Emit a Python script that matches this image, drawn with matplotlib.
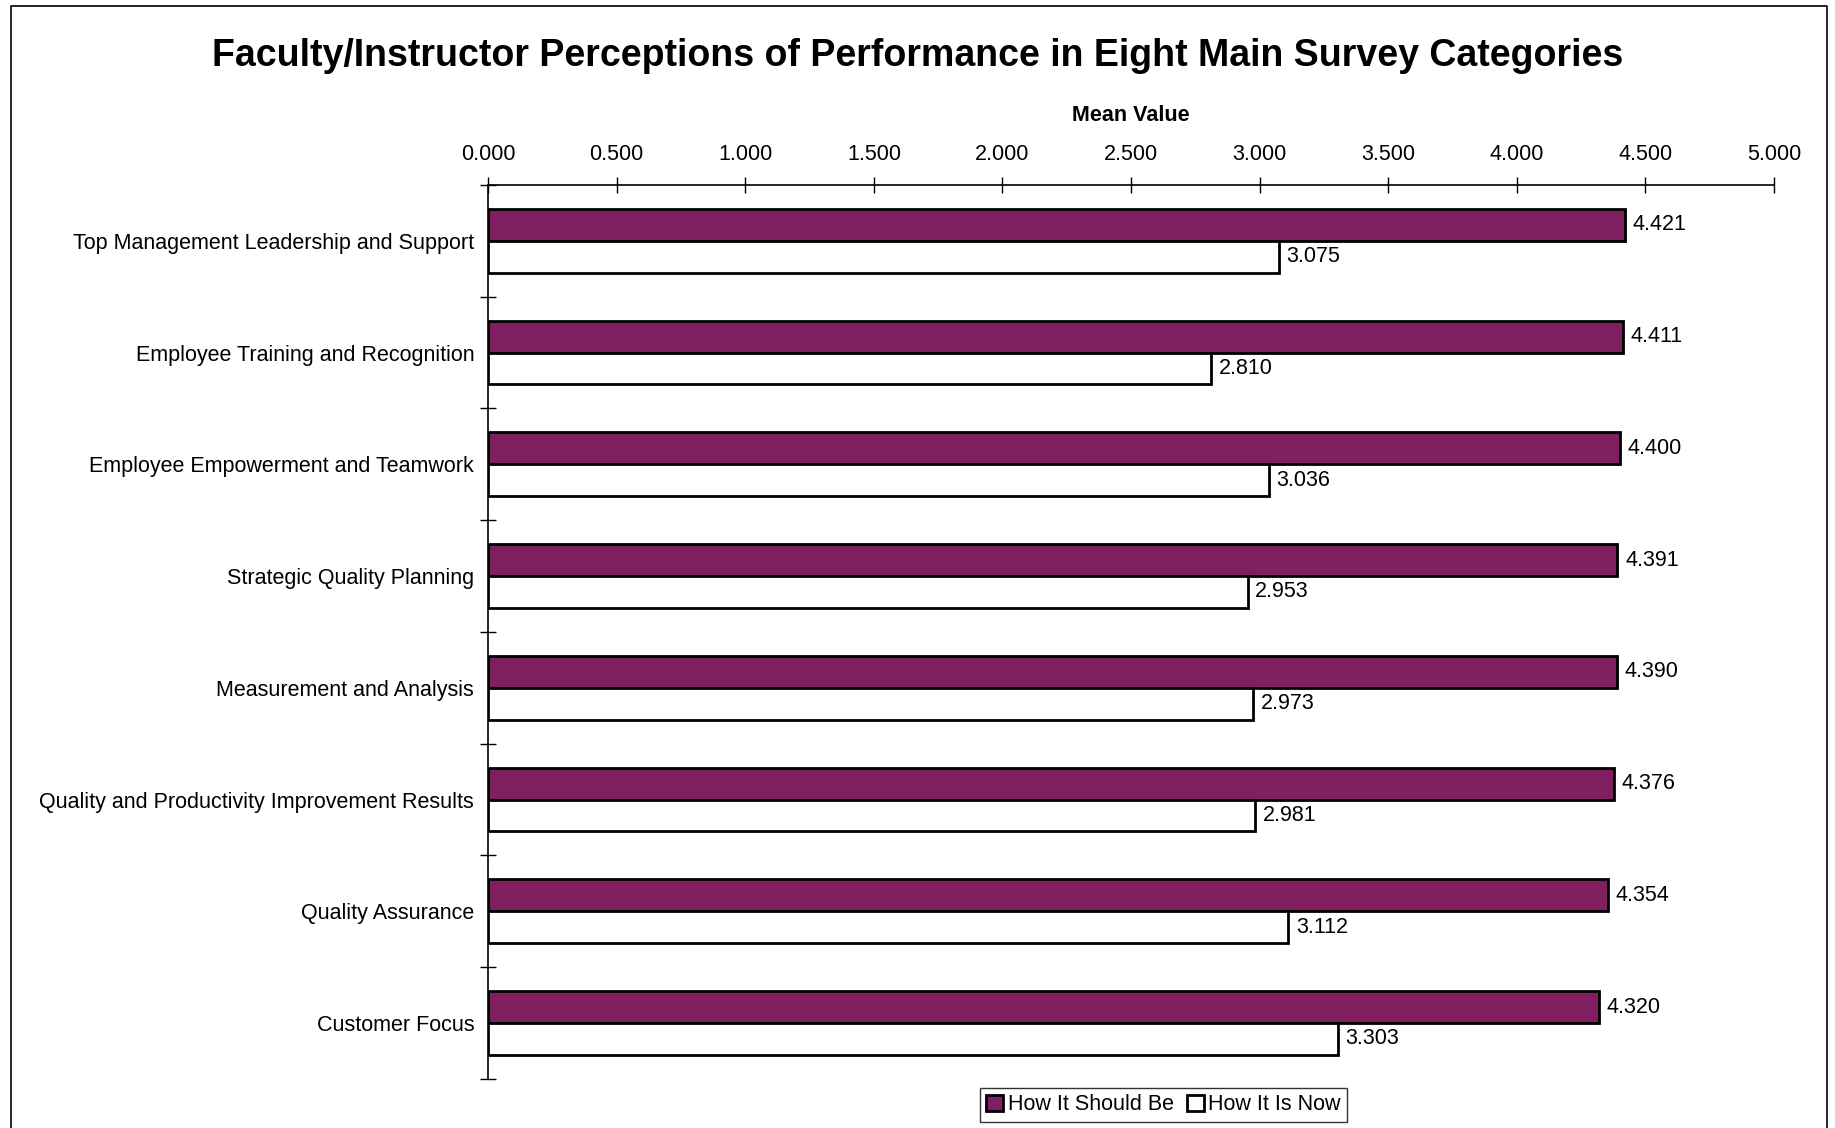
import matplotlib.pyplot as plt
import matplotlib.ticker as mticker
from matplotlib.lines import Line2D
import numpy as np

plt.rcParams['font.family'] = ['Liberation Sans', 'DejaVu Sans']

# 数据
categories = ['Top Management Leadership and Support',
              'Employee Training and Recognition',
              'Employee Empowerment and Teamwork',
              'Strategic Quality Planning',
              'Measurement and Analysis',
              'Quality and Productivity Improvement Results',
              'Quality Assurance',
              'Customer Focus']
should_be = [4.421, 4.411, 4.400, 4.391, 4.390, 4.376, 4.354, 4.320]
is_now = [3.075, 2.810, 3.036, 2.953, 2.973, 2.981, 3.112, 3.303]
series_names = ['How It Should Be', 'How It Is Now']
colors = ['#7f1f5f', '#ffffff']

fig = plt.figure(figsize=(18.35, 11.28), dpi=100)
ax = fig.add_axes([0.266, 0.0435, 0.7008, 0.7926])

y = np.arange(len(categories))
h = 0.285
b1 = ax.barh(y - h / 2, should_be, height=h, color=colors[0], edgecolor='black',
             linewidth=2.0, label=series_names[0])
b2 = ax.barh(y + h / 2, is_now, height=h, color=colors[1], edgecolor='black',
             linewidth=2.0, label=series_names[1])

# 数值标签
for bars, vals in [(b1, should_be), (b2, is_now)]:
    for bar, v in zip(bars, vals):
        ax.text(v + 0.03, bar.get_y() + bar.get_height() / 2, f'{v:.3f}',
                va='center', ha='left', fontsize=15.5)

ax.set_xlim(0, 5)
ax.set_ylim(len(categories) - 0.5, -0.5)

# 坐标轴：刻度在上方
ax.xaxis.tick_top()
ax.xaxis.set_label_position('top')
ax.set_xticks(np.arange(0, 5.01, 0.5))
ax.xaxis.set_major_formatter(mticker.FormatStrFormatter('%.3f'))
ax.set_xlabel('Mean Value', fontsize=15.5, fontweight='bold', labelpad=17)

ax.set_yticks(y)
ax.set_yticklabels(categories, fontsize=15.5)
ax.set_yticks(np.arange(-0.5, len(categories)), minor=True)
ax.tick_params(axis='y', which='major', length=0, pad=10)
ax.tick_params(axis='y', which='minor', direction='inout', length=12, width=1)
ax.tick_params(axis='x', direction='inout', length=12, width=1, labelsize=15.5, pad=8)

for s in ['right', 'bottom']:
    ax.spines[s].set_visible(False)
for s in ['top', 'left']:
    ax.spines[s].set_linewidth(1.2)

fig.suptitle('Faculty/Instructor Perceptions of Performance in Eight Main Survey Categories',
             fontsize=27, fontweight='bold', y=0.966)

leg = fig.legend(handles=[b1, b2], loc='center', bbox_to_anchor=(0.634, 0.0205),
                 ncol=2, fontsize=15.5, frameon=True, fancybox=False, edgecolor='black',
                 handlelength=0.8, handleheight=0.8, handletextpad=0.2,
                 columnspacing=0.6, borderpad=0.3, borderaxespad=0)
leg.get_frame().set_linewidth(1.0)

# 外框
fx = [11 / 1835, 11 / 1835, 1827 / 1835, 1827 / 1835]
fy = [0, 1 - 6 / 1128, 1 - 6 / 1128, 0]
fig.add_artist(Line2D(fx, fy, color='black', linewidth=1.2, transform=fig.transFigure))

fig.savefig('out.png', dpi=100)
